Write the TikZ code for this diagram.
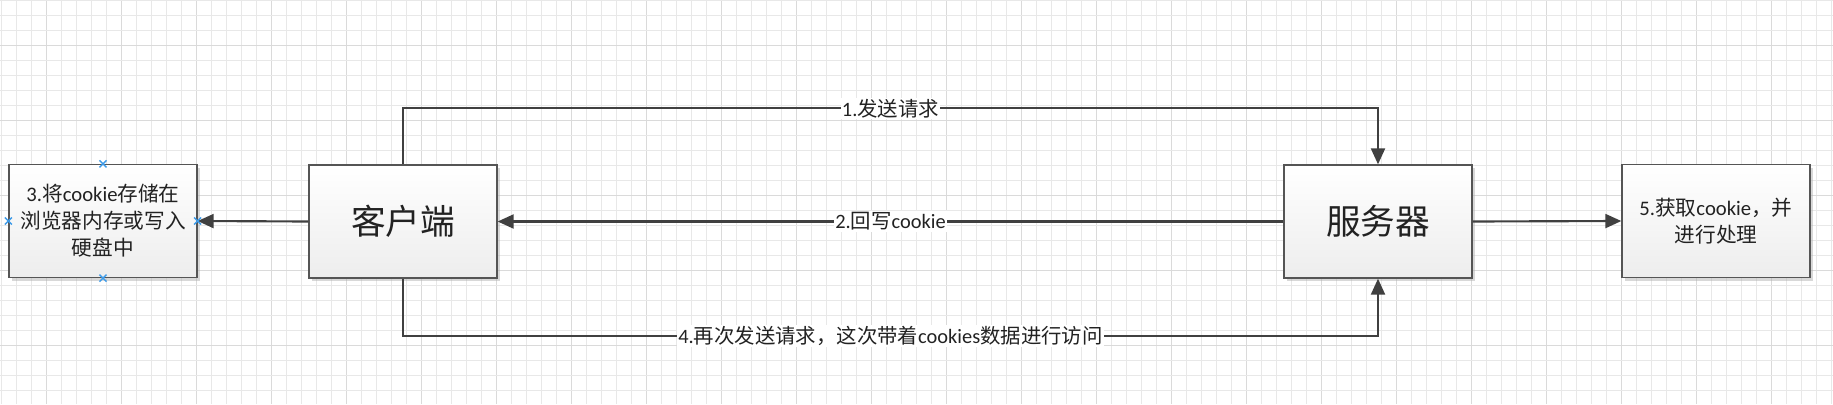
\documentclass[tikz,border=0pt]{standalone}
\usepackage{fontspec}
\setmainfont{Noto Sans CJK SC}
\newfontfamily\lat{Carlito}
\usetikzlibrary{arrows.meta,shadows,calc}
\definecolor{gridlt}{HTML}{E8E8E8}
\definecolor{griddk}{HTML}{DADADA}
\definecolor{boxline}{HTML}{555555}
\definecolor{boxbot}{HTML}{EDEDED}
\definecolor{connc}{HTML}{404040}
\definecolor{txt}{HTML}{222222}
\definecolor{mark}{HTML}{3D9BE9}
\tikzset{
  box/.style={draw=boxline, line width=1pt, top color=white, bottom color=boxbot,
    minimum width=141pt, minimum height=84.75pt, inner sep=0pt, text=txt, align=center,
    drop shadow={shadow xshift=2.5pt, shadow yshift=-2.5pt, fill=black!30, opacity=0.5}},
  bigtxt/.style={font=\fontsize{26}{30}\selectfont},
  smalltxt/.style={font=\fontsize{15.5}{20.25}\selectfont},
  conn/.style={draw=connc, line width=1.6pt, -{Triangle[length=12pt,width=10.5pt]}},
  lbl/.style={fill=white, inner sep=1pt, text=txt, font=\fontsize{15.3}{18}\selectfont},
  xmark/.style={draw=mark, line width=1.1pt}
}
\begin{document}
\begin{tikzpicture}[x=0.75pt, y=-0.75pt]
\useasboundingbox (0,0) rectangle (1833,404);
\fill[white] (0,0) rectangle (1833,404);
% grid
\foreach \k in {0,...,122} {
  \pgfmathtruncatemacro{\m}{mod(\k,5)}
  \ifnum\m=3 \def\gc{griddk}\else\def\gc{gridlt}\fi
  \draw[\gc, line width=0.75pt] ({1.7+15*\k},0) -- ({1.7+15*\k},404);
}
\foreach \k in {0,...,26} {
  \pgfmathtruncatemacro{\m}{mod(\k,5)}
  \ifnum\m=3 \def\gc{griddk}\else\def\gc{gridlt}\fi
  \draw[\gc, line width=0.75pt] (0,{15*\k}) -- (1833,{15*\k});
}
% boxes
\node[box, smalltxt] (store) at (103,221) {{\lat 3.}将{\lat cookie}存储在\\浏览器内存或写入\\硬盘中};
\node[box, bigtxt] (client) at (403,221.5) {客户端};
\node[box, bigtxt] (server) at (1378,221.5) {服务器};
\node[box, smalltxt] (proc) at (1716,221) {{\lat 5.}获取{\lat cookie}，并\\进行处理};
% connectors
\draw[conn] (client.north) -- ++(0,-56) -| node[lbl, pos=0.25] (l1) {{\lat 1.}发送请求} (server.north);
\draw[conn] (server.west) -- node[lbl] (l2) {{\lat 2.}回写{\lat cookie}} (client.east);
\draw[conn] (client.south) -- ++(0,57) -| node[lbl, pos=0.25] (l4) {{\lat 4.}再次发送请求，这次带着{\lat cookies}数据进行访问} (server.south);
\draw[conn] (client.west) -- (store.east);
\draw[conn] (server.east) -- (proc.west);
% connection markers on store box
\foreach \a in {north,south,west,east} {
  \draw[xmark] ($(store.\a)+(-3.5,-3.5)$) -- ($(store.\a)+(3.5,3.5)$);
  \draw[xmark] ($(store.\a)+(-3.5,3.5)$) -- ($(store.\a)+(3.5,-3.5)$);
}
\end{tikzpicture}
\end{document}
